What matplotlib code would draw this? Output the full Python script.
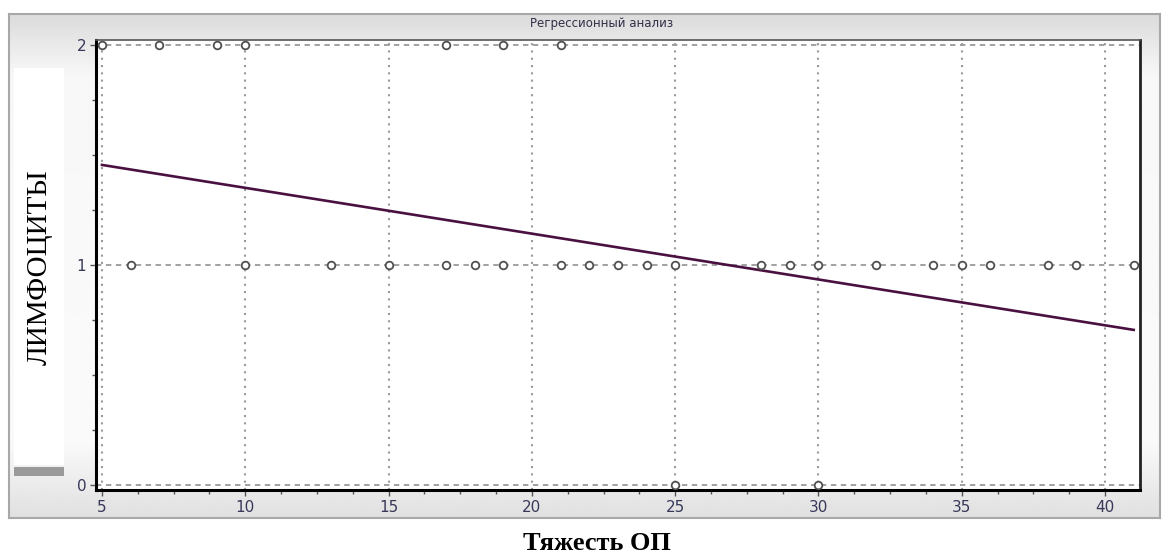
import numpy as np
import matplotlib.pyplot as plt
from matplotlib.patches import Rectangle
from matplotlib.ticker import MultipleLocator

# точки наблюдений (Тяжесть ОП, ЛИМФОЦИТЫ)
x_top = [5, 7, 9, 10, 17, 19, 21]
x_mid = [6, 10, 13, 15, 17, 18, 19, 21, 22, 23, 24, 25, 28, 29, 30, 32,
         34, 35, 36, 38, 39, 41]
x_low = [25, 30]
pts_x = x_top + x_mid + x_low
pts_y = [2] * len(x_top) + [1] * len(x_mid) + [0] * len(x_low)

# линия регрессии (концы)
reg_x = [5, 41]
reg_y = [1.455, 0.705]

x_ticks = [5, 10, 15, 20, 25, 30, 35, 40]
y_ticks = [0, 1, 2]

W, H = 1164, 557
fig = plt.figure(figsize=(W / 100, H / 100), dpi=100)
fig.patch.set_facecolor('white')

# серая рамка окна с градиентом (светлее в середине)
bg = fig.add_axes([9 / W, 1 - 518 / H, (1160 - 9) / W, (518 - 14) / H])
t = np.linspace(0, 1, 256)
grad = np.interp(t, [0, 0.12, 0.85, 1], [0.86, 0.97, 0.98, 0.88])
grad = np.column_stack([grad, grad])
bg.imshow(grad, cmap='gray', vmin=0, vmax=1, aspect='auto',
          extent=[0, 1, 0, 1], origin='upper')
bg.set_xlim(0, 1)
bg.set_ylim(0, 1)
bg.set_xticks([])
bg.set_yticks([])
for s in bg.spines.values():
    s.set_color('#a8a8a8')
    s.set_linewidth(1.5)

# белая вставка под подписью оси Y и серая полоска
fig.patches.append(Rectangle((14 / W, 1 - 465 / H), 50 / W, (465 - 68) / H,
                             transform=fig.transFigure, facecolor='white',
                             edgecolor='none', zorder=1))
fig.patches.append(Rectangle((14 / W, 1 - 476 / H), 50 / W, 9 / H,
                             transform=fig.transFigure, facecolor='#9a9a9a',
                             edgecolor='none', zorder=1))

ax = fig.add_axes([96 / W, 1 - 490 / H, (1140 - 96) / W, (490 - 40) / H])
ax.set_facecolor('white')

ax.plot(reg_x, reg_y, color='#4a1040', linewidth=1.9, zorder=3)
ax.plot(pts_x, pts_y, linestyle='none', marker='o', markersize=5.5,
        markerfacecolor='white', markeredgecolor='#505050',
        markeredgewidth=1.3, zorder=4, clip_on=False)

ax.set_xlim(4.79, 41.22)
ax.set_ylim(-0.023, 2.023)
ax.set_xticks(x_ticks)
ax.set_yticks(y_ticks)
ax.xaxis.set_minor_locator(MultipleLocator(1.25))
ax.yaxis.set_minor_locator(MultipleLocator(0.25))

# сетка: горизонтальная пунктиром, вертикальная точками
for yv in y_ticks:
    ax.axhline(yv, color='#9a9a9a', linewidth=1.3, linestyle=(0, (3, 2.5)),
               zorder=2)
for xv in x_ticks:
    ax.axvline(xv, color='#9a9a9a', linewidth=1.5, linestyle=(0, (1, 2.5)),
               zorder=2)

ax.tick_params(which='both', direction='out', colors='#555555', width=1)
ax.tick_params(which='major', length=4, labelsize=11, labelcolor='#38385a',
               pad=3)
ax.tick_params(which='minor', length=3)

ax.spines['left'].set_linewidth(2.2)
ax.spines['bottom'].set_linewidth(2.2)
ax.spines['right'].set_linewidth(2.0)
ax.spines['left'].set_color('black')
ax.spines['bottom'].set_color('black')
ax.spines['right'].set_color('#222222')
ax.spines['top'].set_color('#555555')
ax.spines['top'].set_linewidth(1.2)

fig.text(602 / W, 1 - 24 / H, 'Регрессионный анализ', ha='center',
         va='center', fontsize=8.5, color='#303048', family='DejaVu Sans')
fig.text(40 / W, 1 - 267 / H, 'ЛИМФОЦИТЫ', rotation=90, ha='center',
         va='center', fontsize=21, family='Liberation Serif', zorder=3)
fig.text(597 / W, 1 - 544 / H, 'Тяжесть ОП', ha='center', va='center',
         fontsize=19, fontweight='bold', family='Liberation Serif')

fig.savefig('out.png', dpi=100)
